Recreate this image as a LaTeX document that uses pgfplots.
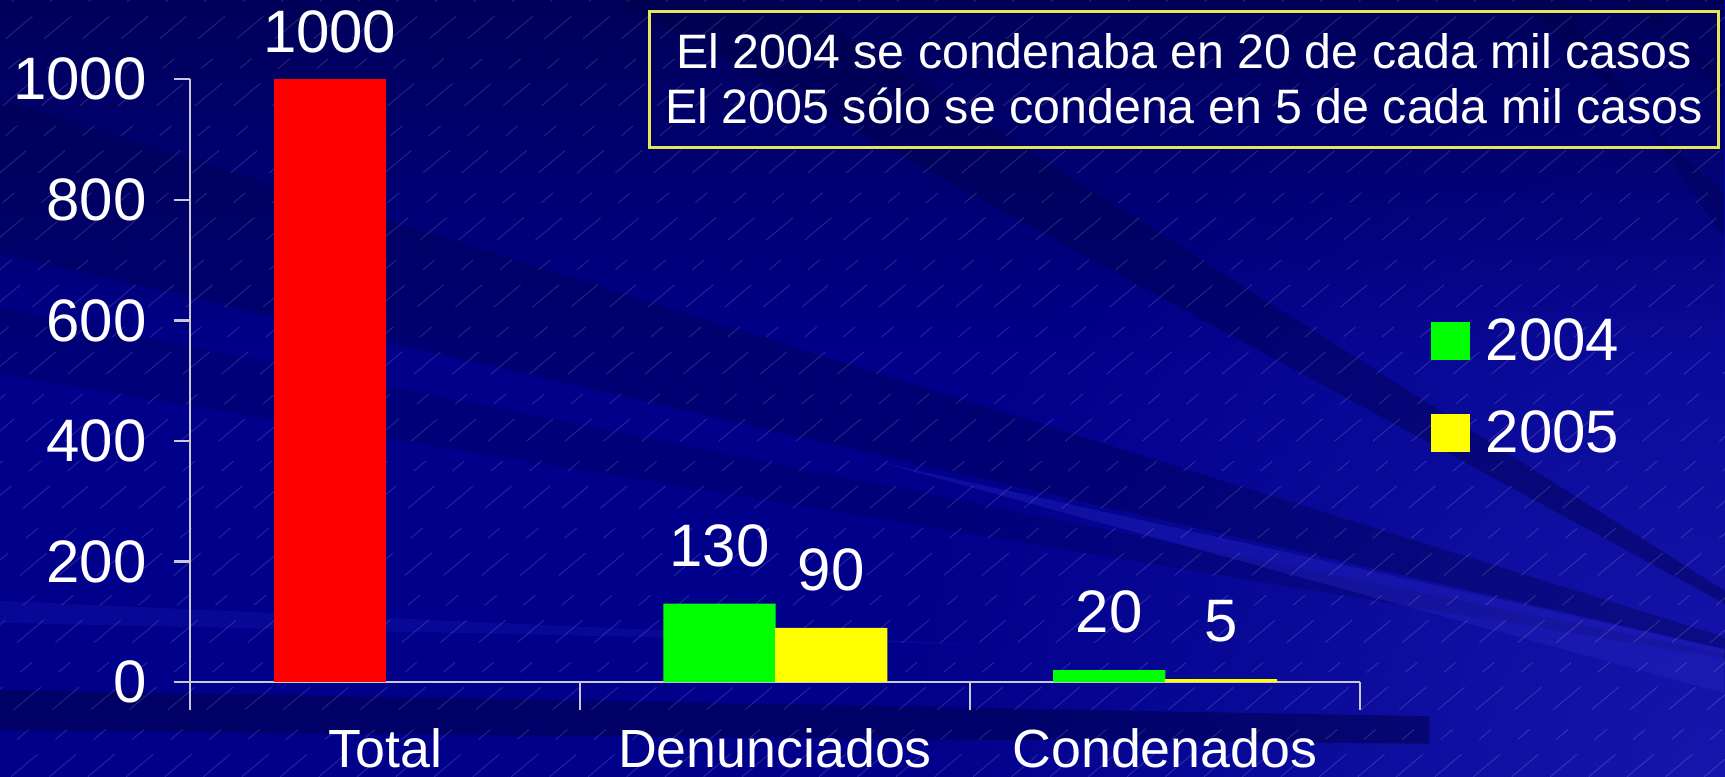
\documentclass[border=0pt]{standalone}
\usepackage{pgfplots}
\pgfplotsset{compat=1.18}
\usetikzlibrary{fadings}
\usepackage{fontspec}
\setmainfont{Liberation Sans}
\definecolor{bgmain}{RGB}{0,0,138}
\definecolor{bgtop}{RGB}{0,0,85}
\definecolor{bgdark}{RGB}{0,0,70}
\definecolor{bglight}{RGB}{40,40,200}
\definecolor{axiscol}{RGB}{200,200,215}
\definecolor{boxcol}{RGB}{230,230,90}
\definecolor{barred}{RGB}{255,0,0}
\definecolor{bargreen}{RGB}{0,255,0}
\definecolor{baryellow}{RGB}{255,255,0}
\begin{document}
\begin{tikzpicture}
\useasboundingbox (0,0) rectangle (15.68cm,7.06cm);
\clip (0,0) rectangle (15.68cm,7.06cm);
\begin{scope}[x=0.01cm,y=0.01cm]
  \fill[bgmain] (0,0) rectangle (1568,706);
  % lighter lower right
  \shade[inner color=bglight!55!bgmain,outer color=bgmain] (1568,0) circle (750);
  % darker top (fading towards the bottom)
  \fill[bgtop,path fading=south,opacity=0.9] (0,380) rectangle (1568,706);
  % dark fan bands converging near the right edge
  \fill[bgdark,opacity=0.40] (560,706) -- (720,706) -- (1700,86) -- cycle;
  \fill[bgdark,opacity=0.35] (0,616) -- (0,476) -- (1700,86) -- cycle;
  \fill[bgdark,opacity=0.25] (0,426) -- (0,366) -- (1700,86) -- cycle;
  % light streaks
  \fill[bglight,opacity=0.35] (800,286) -- (1568,116) -- (1568,76) -- cycle;
  \fill[bglight,opacity=0.2] (0,160) -- (0,140) -- (900,120) -- cycle;
  % bottom dark band
  \fill[bgdark,opacity=0.5] (0,79) -- (1300,55) -- (1300,30) -- (0,42) -- cycle;
  % top right streaks
  \fill[bgdark,opacity=0.3] (1380,706) -- (1420,706) -- (1568,490) -- (1568,530) -- cycle;
  \fill[bgdark,opacity=0.25] (1470,706) -- (1500,706) -- (1568,610) -- (1568,640) -- cycle;
  % thin diagonal hatch
  \foreach \i in {-900,-865,...,1568}
    \draw[white,opacity=0.14,line width=0.25pt,dash pattern=on 9pt off 6pt on 4pt off 8pt] (\i,0) -- ++(843,707);
  % text box
  \draw[boxcol,line width=0.8pt] (591,572) rectangle (1563,696);
  \node[anchor=base,text=white,inner sep=0pt,font=\fontsize{12.5}{14}\selectfont] at (1077,644) {El 2004 se condenaba en 20 de cada mil casos};
  \node[anchor=base,text=white,inner sep=0pt,font=\fontsize{12.5}{14}\selectfont] at (1077,594) {El 2005 sólo se condena en 5 de cada mil casos};
\end{scope}
\begin{axis}[
  at={(1.73cm,0.86cm)}, anchor=south west,
  scale only axis, width=10.63cm, height=5.48cm,
  xmin=-0.5, xmax=2.5, ymin=0, ymax=1000,
  axis x line*=bottom, axis y line*=left,
  axis line style={draw=axiscol,line width=0.6pt},
  tick align=outside,
  ytick={0,200,400,600,800,1000},
  y tick style={draw=axiscol,line width=0.6pt},
  major tick length=0.15cm,
  /pgf/number format/assume math mode=true,
  /pgf/number format/1000 sep={},
  yticklabel style={anchor=east,inner sep=0pt,xshift=-0.24cm,text=white,font=\fontsize{15.5}{18}\selectfont},
  xtick={0,1,2},
  xticklabels={Total,Denunciados,Condenados},
  x tick style={draw=none},
  xticklabel style={anchor=base,inner sep=0pt,yshift=-0.63cm,text=white,font=\fontsize{13.9}{16}\selectfont},
  extra x ticks={-0.5,0.5,1.5,2.5},
  extra x tick labels={},
  extra x tick style={x tick style={draw=axiscol,line width=0.6pt},major tick length=0.25cm},
  ybar, bar width=1.02cm,
  nodes near coords,
  every node near coord/.append style={anchor=base,inner sep=0pt,text=white,font=\fontsize{15.5}{18}\selectfont},
  legend style={at={(axis description cs:1.06,0.617)},anchor=north west,draw=none,fill=none,inner sep=0pt,
     font=\fontsize{15.5}{18}\selectfont,text=white,row sep=7.5pt,
     /tikz/every odd column/.append style={column sep=0.07cm}},
  legend cell align=left,
  legend image code/.code={\fill[#1] (0cm,-0.16cm) rectangle (0.36cm,0.19cm);},
]
\addplot[fill=barred,draw=none,bar shift=-0.505cm,forget plot,
  every node near coord/.append style={yshift=0.24cm}] coordinates {(0,1000)};
\addplot[fill=bargreen,draw=none,bar shift=-0.505cm,
  every node near coord/.append style={yshift=0.34cm}] coordinates {(1,130) (2,20)};
\addplot[fill=baryellow,draw=none,bar shift=0.51cm,
  every node near coord/.append style={yshift=0.34cm}] coordinates {(1,90) (2,5)};
\legend{2004,2005}
\end{axis}
\end{tikzpicture}
\end{document}
